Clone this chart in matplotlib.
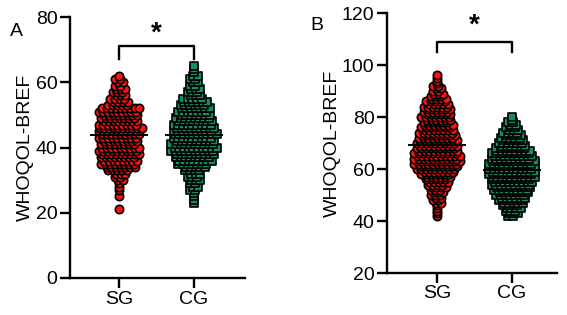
import numpy as np
import matplotlib
matplotlib.use('Agg')
import matplotlib.pyplot as plt

plt.rcParams['font.family'] = ['Liberation Sans', 'DejaVu Sans']

groups = ['SG', 'CG']

# panel A: score -> number of participants
a_sg_scores = list(range(21, 63))
a_sg_counts = [1, 0, 0, 0, 1, 0, 1, 1, 1, 2, 2, 3, 5, 7, 8, 8, 8, 9, 9, 9, 8,
               8, 9, 9, 9, 10, 9, 8, 8, 8, 9, 9, 5, 4, 4, 3, 3, 3, 2, 2, 2, 1]
a_cg_scores = list(range(23, 66))
a_cg_counts = [1, 1, 1, 1, 2, 2, 2, 3, 3, 3, 4, 5, 7, 8, 8, 9, 10, 10, 10, 9,
               9, 10, 9, 9, 9, 8, 8, 7, 7, 7, 6, 6, 5, 3, 3, 3, 2, 2, 2, 2,
               1, 1, 1]

# panel B
b_sg_scores = list(range(42, 97))
b_sg_counts = [1, 1, 1, 1, 1, 2, 2, 2, 3, 3, 3, 4, 4, 5, 5, 6, 7, 7, 9, 9,
               10, 10, 10, 10, 10, 9, 9, 9, 9, 9, 8, 8, 8, 7, 7, 7, 6, 6, 7,
               6, 6, 6, 6, 5, 5, 4, 3, 3, 2, 2, 2, 1, 1, 1, 1]
b_cg_scores = list(range(42, 81))
b_cg_counts = [2, 3, 3, 4, 4, 5, 6, 6, 7, 7, 8, 8, 9, 9, 9, 10, 10, 10, 10,
               10, 10, 10, 9, 9, 9, 8, 7, 6, 6, 5, 5, 4, 4, 3, 3, 2, 2, 1, 1]

red = '#ff1010'
green = '#138c62'


def swarm(ax, pos, scores, counts, marker, color, step=0.062):
    xs, ys = [], []
    for k, (s, n) in enumerate(zip(scores, counts)):
        shift = step * 0.35 * (1 if k % 2 else -1) if n > 1 else 0
        for i in range(n):
            xs.append(pos + (i - (n - 1) / 2) * step + shift)
            ys.append(s)
    ax.scatter(xs, ys, s=36, marker=marker, facecolor=color,
               edgecolor='black', linewidth=1.2, zorder=3)
    vals = np.repeat(scores, counts)
    m = vals.mean()
    ax.plot([pos - 0.37, pos + 0.37], [m, m], color='black', lw=1.4, zorder=4)


def style(ax, ylim, ticks):
    ax.set_ylim(*ylim)
    ax.set_yticks(ticks)
    ax.set_xticks([0, 1])
    ax.set_xticklabels(groups)
    for sp in ['top', 'right']:
        ax.spines[sp].set_visible(False)
    for sp in ['left', 'bottom']:
        ax.spines[sp].set_linewidth(1.7)
    ax.tick_params(width=1.7, length=7, labelsize=14, pad=2)
    ax.set_ylabel('WHOQOL-BREF', fontsize=14, labelpad=1)


def sig(ax, y, yl, ys):
    ax.plot([0, 0, 1, 1], [yl, y, y, yl], color='black', lw=1.7,
            clip_on=False, zorder=5)
    ax.text(0.5, ys, '*', ha='center', va='center', fontsize=20,
            fontweight='bold', clip_on=False)


fig = plt.figure(figsize=(5.67, 3.15), dpi=100)

ax1 = fig.add_axes([70 / 567, 1 - 278 / 315, 175 / 567, 261 / 315])
swarm(ax1, 0, a_sg_scores, a_sg_counts, 'o', red)
swarm(ax1, 1, a_cg_scores, a_cg_counts, 's', green)
ax1.set_xlim(-0.653, 1.68)
style(ax1, (0, 80), [0, 20, 40, 60, 80])
sig(ax1, 71, 67, 74.8)
fig.text(16 / 567, 1 - 32 / 315, 'A', fontsize=14, ha='center', va='center')

ax2 = fig.add_axes([387 / 567, 1 - 273 / 315, 170 / 567, 260 / 315])
swarm(ax2, 0, b_sg_scores, b_sg_counts, 'o', red)
swarm(ax2, 1, b_cg_scores, b_cg_counts, 's', green)
ax2.set_xlim(-0.667, 1.6)
style(ax2, (20, 120), [20, 40, 60, 80, 100, 120])
sig(ax2, 109, 105, 115.2)
fig.text(317 / 567, 1 - 25 / 315, 'B', fontsize=14, ha='center', va='center')

fig.savefig('out.png', dpi=100)
